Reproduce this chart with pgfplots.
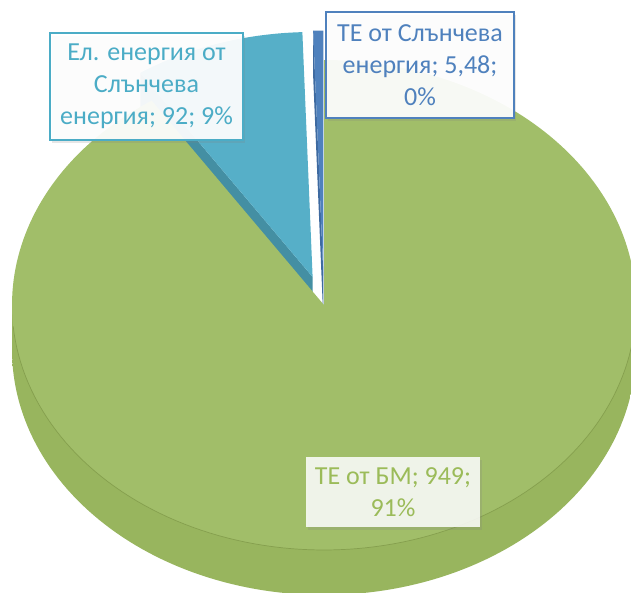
\documentclass[border=0pt]{standalone}
\usepackage{pgfplots}
\pgfplotsset{compat=1.18}
\usepackage{fontspec}
\setmainfont{Carlito}
\usetikzlibrary{shadows}
\definecolor{gr}{HTML}{A1BE69}
\definecolor{grD}{HTML}{687E3E}
\definecolor{grE}{HTML}{87A24F}
\definecolor{grM}{HTML}{98B55E}
\definecolor{grL}{HTML}{859F4E}
\definecolor{aq}{HTML}{56AFC8}
\definecolor{aqd}{HTML}{448FA3}
\definecolor{aqT}{HTML}{4BACC6}
\definecolor{db}{HTML}{4F81BD}
\definecolor{dbd}{HTML}{3E6AA0}
\definecolor{grT}{HTML}{9BBB59}
\pgfdeclarehorizontalshading{pieside}{100bp}{color(0bp)=(grD); color(3bp)=(grE); color(12bp)=(grM); color(50bp)=(grM); color(88bp)=(grM); color(97bp)=(grE); color(100bp)=(grD)}
% ---- data (values of the three slices) ----
\def\vA{949}   % ТЕ от БМ
\def\vB{92}    % Ел. енергия от Слънчева енергия
\def\vC{5.48}  % ТЕ от Слънчева енергия
% ---- geometry (pixel units) ----
\def\cx{324}\def\cy{305}\def\rx{312}\def\ry{245}\def\dep{45}\def\ex{0.12}
\pgfmathsetmacro\tot{\vA+\vB+\vC}
\pgfmathsetmacro\fA{\vA/\tot}
\pgfmathsetmacro\fB{\vB/\tot}
\pgfmathsetmacro\fC{\vC/\tot}
\pgfmathsetmacro\gS{90-360*\fA}
\pgfmathsetmacro\bS{\gS-360*\fB}
\pgfmathsetmacro\dS{\bS-360*\fC}
\pgfmathsetmacro\mb{(\bS+\gS)/2}
\pgfmathsetmacro\md{(\dS+\bS)/2}
\pgfmathsetmacro\cxb{\cx+\ex*\rx*cos(\mb)}
\pgfmathsetmacro\cyb{\cy-\ex*\ry*sin(\mb)}
\pgfmathsetmacro\cxd{\cx+\ex*\rx*cos(\md)}
\pgfmathsetmacro\cyd{\cy-\ex*\ry*sin(\md)}
% blue wall at gS
\pgfmathsetmacro\bwx{\cxb+\rx*cos(\gS)}
\pgfmathsetmacro\bwy{\cyb-\ry*sin(\gS)}
\pgfmathsetmacro\bwyl{\bwy+\dep}
\pgfmathsetmacro\cybl{\cyb+\dep}
% dark blue wall at bS
\pgfmathsetmacro\dwx{\cxd+\rx*cos(\bS)}
\pgfmathsetmacro\dwy{\cyd-\ry*sin(\bS)}
\pgfmathsetmacro\dwyl{\dwy+\dep}
\pgfmathsetmacro\cydl{\cyd+\dep}
% side
\pgfmathsetmacro\xl{\cx-\rx}
\pgfmathsetmacro\xr{\cx+\rx}
\pgfmathsetmacro\cyl{\cy+\dep}
\begin{document}
\begin{tikzpicture}
\begin{axis}[hide axis, scale only axis, width=631pt, height=593pt,
  xmin=0, xmax=631, ymin=0, ymax=593, y dir=reverse, no markers]
% blue slice (exploded): wall then top
\addplot[fill=aqd, draw=none] coordinates {(\cxb,\cyb) (\bwx,\bwy) (\bwx,\bwyl) (\cxb,\cybl)} -- cycle;
\addplot[fill=aq, draw=none, domain=\bS:\gS, samples=40, variable=\t]
  ({\cxb+\rx*cos(\t)}, {\cyb-\ry*sin(\t)}) -- (axis cs:\cxb,\cyb) -- cycle;
% dark blue slice (exploded)
\addplot[fill=dbd, draw=none] coordinates {(\cxd,\cyd) (\dwx,\dwy) (\dwx,\dwyl) (\cxd,\cydl)} -- cycle;
\addplot[fill=db, draw=none, domain=\dS:\bS, samples=10, variable=\t]
  ({\cxd+\rx*cos(\t)}, {\cyd-\ry*sin(\t)}) -- (axis cs:\cxd,\cyd) -- cycle;
% green side wall
\addplot[draw=none, shade, shading=pieside, domain=180:360, samples=120, variable=\t]
  ({\cx+\rx*cos(\t)}, {\cyl-\ry*sin(\t)}) -- (axis cs:\xr,\cy) -- (axis cs:\xl,\cy) -- cycle;
% green top
\addplot[fill=gr, draw=none, domain=\gS:90, samples=240, variable=\t]
  ({\cx+\rx*cos(\t)}, {\cy-\ry*sin(\t)}) -- (axis cs:\cx,\cy) -- cycle;
% rim line between top face and side
\addplot[draw=grL, line width=0.7pt, domain=185:355, samples=100, variable=\t]
  ({\cx+\rx*cos(\t)}, {\cy-\ry*sin(\t)});
% labels
\node[draw=aqT, line width=1.6pt, fill=white, fill opacity=0.93, text opacity=1, text=aqT,
  align=center, minimum width=193pt, minimum height=107pt, inner sep=0pt,
  font=\fontsize{26}{32}\selectfont,
  drop shadow={opacity=0.2, shadow xshift=2pt, shadow yshift=-3pt}]
  at (axis cs:146.5,86.5) {Ел. енергия от\\Слънчева\\енергия; 92; 9\%};
\node[draw=db, line width=1.6pt, fill=white, fill opacity=0.93, text opacity=1, text=db,
  align=center, minimum width=188pt, minimum height=106pt, inner sep=0pt,
  font=\fontsize{26}{32}\selectfont,
  drop shadow={opacity=0.2, shadow xshift=2pt, shadow yshift=-3pt}]
  at (axis cs:420,65) {ТЕ от Слънчева\\енергия; 5,48;\\0\%};
\node[draw=none, fill=white, fill opacity=0.85, text opacity=1, text=grT,
  align=center, minimum width=174pt, minimum height=70pt, inner sep=0pt,
  font=\fontsize{26}{32}\selectfont,
  drop shadow={opacity=0.2, shadow xshift=2pt, shadow yshift=-3pt}]
  at (axis cs:393,492) {ТЕ от БМ; 949;\\91\%};
\coordinate (SW) at (rel axis cs:0,0);
\coordinate (NE) at (rel axis cs:1,1);
\end{axis}
\pgfresetboundingbox
\path[use as bounding box] (SW) rectangle (NE);
\end{tikzpicture}
\end{document}
